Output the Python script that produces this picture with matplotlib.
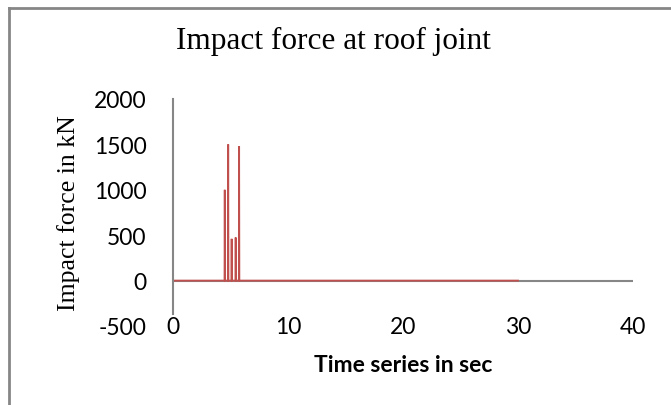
import matplotlib
matplotlib.use("Agg")
import matplotlib.pyplot as plt
from matplotlib.lines import Line2D

# Impact force history at the roof joint (time in s, force in kN)
time_s = [0.0, 4.48, 4.50, 4.52, 4.78, 4.80, 4.82, 5.08, 5.10, 5.12,
          5.43, 5.45, 5.47, 5.73, 5.75, 5.77, 30.0]
force_kN = [0, 0, 1000, 0, 0, 1500, 0, 0, 460, 0,
            0, 475, 0, 0, 1480, 0, 0]

x_ticks = [0, 10, 20, 30, 40]
y_ticks = [-500, 0, 500, 1000, 1500, 2000]

RED = "#C0504D"
GRAY = "#868686"
SERIF = ["Liberation Serif", "DejaVu Serif"]
SANS = ["Lato", "DejaVu Sans"]

fig = plt.figure(figsize=(6.71, 4.06), dpi=100)
ax = fig.add_axes([173 / 671, 1 - 327 / 406, 460 / 671, 227 / 406])

ax.set_xlim(0, 40)
ax.set_ylim(-500, 2000)

# horizontal axis drawn through zero
ax.axhline(0, color=GRAY, lw=1.5, zorder=1)
ax.plot(time_s, force_kN, color=RED, lw=1.3, zorder=2, solid_joinstyle="miter")

for s in ["top", "right", "bottom"]:
    ax.spines[s].set_visible(False)
ax.spines["left"].set_color(GRAY)
ax.spines["left"].set_linewidth(1.5)
ax.spines["left"].set_bounds(-370, 2000)

ax.set_xticks(x_ticks)
ax.set_yticks(y_ticks)
ax.set_xticklabels([str(v) for v in x_ticks], family=SANS, fontsize=16.5)
ax.set_yticklabels([str(v) for v in y_ticks], family=SANS, fontsize=16.5)
ax.tick_params(axis="x", length=0, pad=-7)
ax.tick_params(axis="y", length=0, pad=19)

ax.set_xlabel("Time series in sec", family=SANS, fontsize=16.5, fontweight="bold",
              labelpad=12)
ax.set_ylabel("Impact force in kN", family=SERIF, fontsize=18.5, labelpad=10)
fig.text(333 / 671, 1 - 41 / 406, "Impact force at roof joint", family=SERIF,
         fontsize=22.5, ha="center", va="center")

# chart area frame (top and left edges)
fig.add_artist(Line2D([9 / 671, 9 / 671], [0, 1 - 9 / 406], transform=fig.transFigure,
                      color=GRAY, lw=2))
fig.add_artist(Line2D([9 / 671, 1], [1 - 9 / 406, 1 - 9 / 406], transform=fig.transFigure,
                      color=GRAY, lw=2))

fig.savefig("out.png", dpi=100)
